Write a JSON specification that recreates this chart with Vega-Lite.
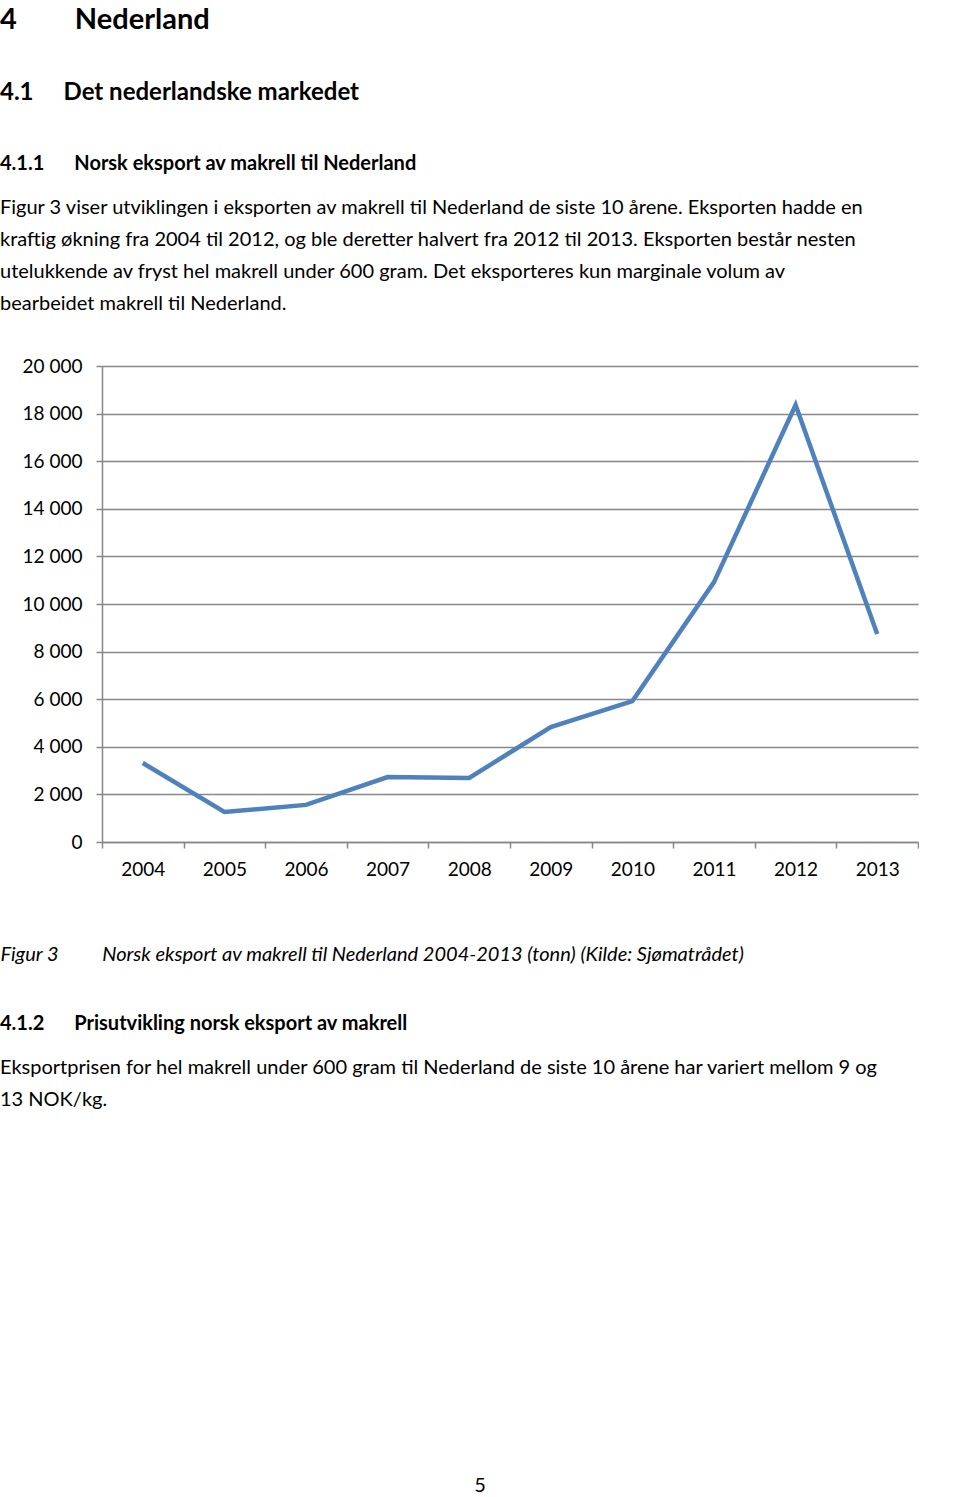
{
  "$schema": "https://vega.github.io/schema/vega-lite/v6.json",
  "padding": {"left": 0, "top": 6, "right": 0, "bottom": 0},
  "background": "white",
  "spacing": 50,
  "title": {
    "text": "4\u2003\u2003\u2002Nederland",
    "subtitle": "4.1\u2003\u2002Det nederlandske markedet",
    "anchor": "start",
    "baseline": "top",
    "font": "Lato",
    "fontSize": 29,
    "fontWeight": "bold",
    "color": "black",
    "subtitleFont": "Lato",
    "subtitleFontSize": 24,
    "subtitleFontWeight": "bold",
    "subtitleColor": "black",
    "subtitlePadding": 46,
    "offset": 49
  },
  "vconcat": [
    {
      "width": 816,
      "height": 476,
      "title": {
        "text": "4.1.1\u2003\u2003Norsk eksport av makrell til Nederland",
        "subtitle": [
          "Figur 3 viser utviklingen i eksporten av makrell til Nederland de siste 10 årene. Eksporten hadde en",
          "kraftig økning fra 2004 til 2012, og ble deretter halvert fra 2012 til 2013. Eksporten består nesten",
          "utelukkende av fryst hel makrell under 600 gram. Det eksporteres kun marginale volum av",
          "bearbeidet makrell til Nederland."
        ],
        "anchor": "start",
        "frame": "group",
        "dx": -102,
        "baseline": "top",
        "font": "Lato",
        "fontSize": 20,
        "fontWeight": "bold",
        "color": "black",
        "subtitleFont": "Lato",
        "subtitleFontSize": 20,
        "subtitleFontWeight": "normal",
        "subtitleColor": "black",
        "subtitleLineHeight": 32,
        "subtitlePadding": 24,
        "offset": 43
      },
      "data": {
        "values": [
          {"year": "2004", "tonn": 3320},
          {"year": "2005", "tonn": 1260},
          {"year": "2006", "tonn": 1560},
          {"year": "2007", "tonn": 2730},
          {"year": "2008", "tonn": 2690},
          {"year": "2009", "tonn": 4830},
          {"year": "2010", "tonn": 5920},
          {"year": "2011", "tonn": 10920},
          {"year": "2012", "tonn": 18360},
          {"year": "2013", "tonn": 8740}
        ]
      },
      "mark": {"type": "line", "color": "#4F81BD", "strokeWidth": 4.5},
      "encoding": {
        "x": {
          "field": "year",
          "type": "ordinal",
          "bandPosition": 0.5,
          "scale": {"type": "band", "paddingInner": 0, "paddingOuter": 0},
          "axis": {
            "title": "Figur 3\u2003\u2003\u2003\u2009Norsk eksport av makrell til Nederland 2004-2013 (tonn) (Kilde: Sjømatrådet)",
            "titleFont": "Lato",
            "titleFontStyle": "italic",
            "titleFontWeight": "normal",
            "titleFontSize": 20,
            "titleColor": "black",
            "titleAnchor": "start",
            "titleAlign": "left",
            "titleBaseline": "alphabetic",
            "titleX": -102,
            "titleY": 118,
            "labelAngle": 0,
            "labelFont": "Lato",
            "labelFontSize": 19,
            "labelColor": "black",
            "labelPadding": 12,
            "tickBand": "extent",
            "tickSize": 6,
            "tickWidth": 1.5,
            "tickColor": "#888888",
            "domainColor": "#888888",
            "domainWidth": 1.5,
            "grid": false
          }
        },
        "y": {
          "field": "tonn",
          "type": "quantitative",
          "scale": {"domain": [0, 20000]},
          "axis": {
            "title": null,
            "values": [0, 2000, 4000, 6000, 8000, 10000, 12000, 14000, 16000, 18000, 20000],
            "format": ",d",
            "grid": true,
            "gridColor": "#888888",
            "gridWidth": 1.5,
            "domainColor": "#888888",
            "domainWidth": 1.5,
            "tickColor": "#888888",
            "tickSize": 6,
            "tickWidth": 1.5,
            "labelFont": "Lato",
            "labelFontSize": 19,
            "labelColor": "black",
            "labelPadding": 14
          }
        }
      }
    },
    {
      "width": 756,
      "height": 20,
      "title": {
        "text": "4.1.2\u2003\u2003Prisutvikling norsk eksport av makrell",
        "subtitle": [
          "Eksportprisen for hel makrell under 600 gram til Nederland de siste 10 årene har variert mellom 9 og",
          "13 NOK/kg."
        ],
        "anchor": "start",
        "frame": "group",
        "dx": -102,
        "baseline": "top",
        "font": "Lato",
        "fontSize": 20,
        "fontWeight": "bold",
        "color": "black",
        "subtitleFont": "Lato",
        "subtitleFontSize": 20,
        "subtitleFontWeight": "normal",
        "subtitleColor": "black",
        "subtitleLineHeight": 32,
        "subtitlePadding": 24,
        "offset": 366
      },
      "data": {"values": [{"side": "5"}]},
      "mark": {"type": "text", "font": "Lato", "fontSize": 20, "color": "black"},
      "encoding": {"text": {"field": "side", "type": "nominal"}}
    }
  ],
  "config": {
    "view": {"stroke": null},
    "font": "Lato",
    "locale": {
      "number": {"decimal": ",", "thousands": "\u00a0", "grouping": [3], "currency": ["", " kr"]}
    }
  }
}
